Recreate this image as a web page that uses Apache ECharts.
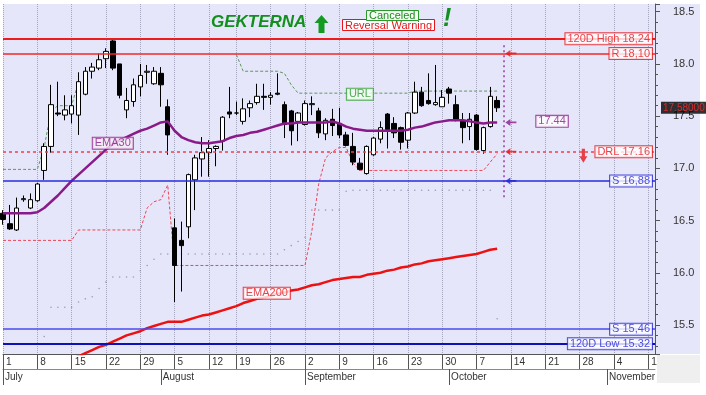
<!DOCTYPE html>
<html><head><meta charset="utf-8">
<script src="https://cdn.jsdelivr.net/npm/echarts@6/dist/echarts.min.js"></script>
<style>html,body{margin:0;padding:0;background:#fff}#c{width:706px;height:395px}</style>
</head><body><div id="c"></div>
<script>
// ---- trading-day categories (2019, Aug 15 holiday) ----
const julDays=[1,2,3,4,5,8,9,10,11,12,15,16,17,18,19,22,23,24,25,26,29,30,31];
const augDays=[1,2,5,6,7,8,9,12,13,14,16,19,20,21,22,23,26,27,28,29,30];
const sepDays=[2,3,4,5,6,9,10,11,12,13,16,17,18,19,20,23,24,25,26,27,30];
const octDays=[1,2,3,4,7,8,9,10,11,14,15,16,17,18,21,22,23,24,25,28,29,30,31];
const novDays=[1,4,5,6,7,8,11,12];
const monthNames={'07':'July','08':'August','09':'September','10':'October','11':'November'};

// ---- OHLC ----
const opens=[16.57,16.47,16.41,16.70,16.62,16.69,16.98,17.21,17.53,17.51,17.52,17.51,17.71,17.93,17.96,18.05,18.22,18.00,17.56,17.64,17.78,17.92,17.81,17.91,17.59,16.43,16.31,16.44,16.89,17.09,17.15,17.19,17.26,17.54,17.53,17.45,17.58,17.63,17.69,17.68,17.72,17.61,17.55,17.45,17.42,17.61,17.55,17.33,17.47,17.43,17.32,17.21,17.05,16.95,17.13,17.28,17.52,17.43,17.39,17.27,17.53,17.73,17.65,17.61,17.59,17.76,17.61,17.46,17.40,17.51,17.17,17.40,17.65];
const closes=[16.51,16.42,16.62,16.71,16.70,16.85,17.21,17.61,17.52,17.56,17.60,17.83,17.93,17.97,18.04,18.12,17.96,17.70,17.65,17.80,17.89,17.93,17.93,17.80,17.32,16.07,16.26,16.94,17.10,17.15,17.19,17.21,17.49,17.52,17.53,17.57,17.62,17.69,17.68,17.70,17.71,17.42,17.36,17.53,17.62,17.62,17.34,17.46,17.41,17.32,17.22,17.06,16.99,17.21,17.29,17.39,17.37,17.34,17.25,17.53,17.73,17.60,17.62,17.63,17.68,17.72,17.46,17.39,17.47,17.18,17.39,17.69,17.58];
const highs=[16.60,16.65,16.72,16.74,16.76,16.86,17.24,17.80,17.83,17.70,17.70,17.92,17.97,18.01,18.10,18.15,18.24,18.00,17.77,17.86,18.00,17.99,17.97,17.97,17.66,16.52,16.49,16.95,17.13,17.30,17.27,17.22,17.50,17.78,17.64,17.67,17.65,17.81,17.81,17.73,17.91,17.64,17.56,17.54,17.65,17.69,17.58,17.48,17.57,17.58,17.35,17.34,17.10,17.22,17.30,17.45,17.53,17.49,17.40,17.54,17.83,17.78,17.91,17.99,17.75,17.78,17.70,17.53,17.53,17.52,17.40,17.78,17.69];
const lows=[16.46,16.41,16.40,16.68,16.61,16.68,16.89,17.15,17.50,17.46,17.43,17.32,17.70,17.86,17.94,17.96,17.94,17.67,17.48,17.59,17.69,17.81,17.80,17.59,17.13,15.72,15.82,16.33,16.60,16.92,16.92,17.02,17.17,17.48,17.51,17.42,17.49,17.61,17.56,17.61,17.70,17.29,17.22,17.26,17.41,17.51,17.29,17.27,17.31,17.29,17.21,17.03,16.98,16.94,17.12,17.24,17.19,17.29,17.18,17.19,17.52,17.59,17.61,17.60,17.59,17.62,17.45,17.24,17.27,17.17,17.14,17.39,17.54];

// ---- indicators ----
const ema30=[16.57,16.57,16.57,16.57,16.57,16.58,16.62,16.68,16.74,16.81,16.88,16.94,17.00,17.06,17.12,17.18,17.23,17.27,17.30,17.33,17.36,17.38,17.41,17.44,17.45,17.36,17.30,17.27,17.25,17.24,17.24,17.25,17.26,17.29,17.31,17.32,17.34,17.35,17.37,17.39,17.41,17.43,17.43,17.44,17.44,17.44,17.44,17.44,17.45,17.43,17.40,17.38,17.37,17.36,17.36,17.36,17.36,17.36,17.36,17.37,17.39,17.40,17.42,17.44,17.45,17.46,17.46,17.46,17.45,17.44,17.43,17.44,17.44];
const ema200=[14.90,14.93,14.96,14.98,15.01,15.04,15.07,15.10,15.12,15.15,15.18,15.20,15.23,15.26,15.29,15.31,15.34,15.37,15.40,15.42,15.44,15.47,15.49,15.51,15.53,15.53,15.53,15.55,15.57,15.59,15.60,15.62,15.64,15.66,15.68,15.71,15.73,15.75,15.76,15.78,15.80,15.81,15.83,15.84,15.86,15.88,15.89,15.91,15.93,15.94,15.95,15.96,15.96,15.98,15.99,16.00,16.02,16.03,16.05,16.06,16.08,16.09,16.11,16.12,16.13,16.14,16.15,16.16,16.17,16.18,16.20,16.22,16.23];
const urlLevel=[16.99,16.99,16.99,16.99,16.99,16.99,17.20,17.55,17.60,17.60,17.60,17.83,null,null,null,null,null,null,null,null,null,null,null,null,null,null,null,null,null,null,null,null,null,null,18.09,17.93,17.93,17.93,17.93,17.93,17.93,17.91,17.80,17.72,17.72,17.72,17.72,17.72,17.72,17.72,17.72,17.72,17.72,17.72,17.72,17.72,17.72,17.72,17.72,17.72,17.74,17.74,17.74,17.74,17.74,17.74,17.74,17.74,17.74,17.74,17.74,17.74,17.74];
const lowerLevel=[16.31,16.31,16.31,16.31,16.31,16.31,16.31,16.31,16.31,16.31,16.31,16.41,16.41,16.41,16.41,16.41,16.41,16.41,16.41,16.41,16.41,16.62,16.68,16.70,16.84,16.07,16.07,16.07,16.07,16.07,16.07,16.07,16.07,16.07,16.07,16.07,16.07,16.07,16.07,16.07,16.07,16.07,16.07,16.07,16.07,16.40,16.85,17.10,17.16,17.20,17.20,17.05,16.98,16.98,16.98,16.98,16.98,16.98,16.98,16.98,16.98,16.98,16.98,16.98,16.98,16.98,16.98,16.98,16.98,16.98,16.98,17.06,17.14];
const bandDots=[null,null,null,null,null,null,15.39,15.67,15.67,15.67,15.67,15.72,15.75,15.77,15.85,15.91,15.96,15.96,15.96,15.96,16.02,16.07,16.13,16.18,16.18,16.18,16.18,16.18,16.18,16.18,16.18,16.18,16.18,16.18,16.18,16.18,16.18,16.18,16.18,16.18,16.18,16.22,16.26,16.30,16.34,16.60,16.60,16.60,16.60,16.60,16.78,16.79,16.79,16.79,16.79,16.79,16.79,16.79,16.79,16.79,16.79,16.79,16.79,16.79,16.79,16.79,16.79,16.79,16.79,16.79,16.79,16.79,15.56];

// ---- levels / annotations ----
const levelNames=['120D High 18,24','R 18,10','DRL 17.16','S 16,88','S 15,46','120D Low 15.32'];
const levelValues=[18.24,18.10,17.16,16.88,15.46,15.32];
const arrowLevels=[18.10,17.44,17.16,16.88];
const arrowDate='10-14';
const downArrow=['10-29',17.12];
const markerDate='10-11';
const markerRange=[18.18,16.70];
const tagNames=['EMA30','EMA200','URL','17.44'];
const tagPoints=[['07-23',17.24],['08-23',15.805],['09-12',17.71],['10-22',17.45]];

const pad=d=>(d<10?'0':'')+d;
const categories=[].concat(
  julDays.map(d=>'07-'+pad(d)),augDays.map(d=>'08-'+pad(d)),
  sepDays.map(d=>'09-'+pad(d)),octDays.map(d=>'10-'+pad(d)),novDays.map(d=>'11-'+pad(d)));
const isMonday=i=>{const c=categories[i];return new Date(2019,+c.slice(0,2)-1,+c.slice(3)).getDay()===1;};
const isMonthStart=i=>i===0||categories[i].slice(0,2)!==categories[i-1].slice(0,2);

const FONT='Liberation Sans';
const RED='#e5161c', BLUE='#2424d4', PURPLE='#8a1a8a', GREEN='#2a9a2a';
const lastCat=categories[categories.length-1];

const candleData=opens.map((o,i)=>[o,closes[i],lows[i],highs[i]]);
const levelColors=['#ee1c1c','#f02828','#ff3848','#2a2ae0','#4a4af0','#1010b8'];
const levelWidths=[2.2,1.6,1.6,1.6,1.6,2.2];
const levelTypes=['solid','solid',[3,3],'solid','solid','solid'];
const levelTextColors=[RED,RED,RED,BLUE,BLUE,BLUE];
const arrowColors=[RED,PURPLE,RED,BLUE];
const tagColors=[[PURPLE,'#f6eef6'],[RED,'#ffffff'],[GREEN,'#f2fff2'],[PURPLE,'#ffffff']];
const tagOffsets=[[0,0],[3,0],[0,0],[0,0]];

const levelSeries=levelValues.map((v,i)=>({
  type:'line',name:'level'+i,data:[],z:2,silent:true,
  markLine:{silent:true,symbol:['none','none'],label:{show:false},animation:false,
    lineStyle:{color:levelColors[i],width:levelWidths[i],type:levelTypes[i],opacity:1},
    emphasis:{disabled:true},
    data:[{yAxis:v}]}
}));

const opt={
  animation:false,
  textStyle:{fontFamily:FONT},
  graphic:[
    {type:'rect',z:-100,shape:{x:3,y:4,width:697,height:350},style:{fill:'#e6e6fa'}},
    {type:'rect',z:100,shape:{x:657,y:355,width:43,height:28},style:{fill:'#efefef'}},
    {type:'polygon',z:100,shape:{points:[[321.5,15],[328.5,23],[324.5,23],[324.5,33],[318.5,33],[318.5,23],[314.5,23]]},style:{fill:'#139a22'}}
  ],
  title:[
    {text:'GEKTERNA',left:211,top:14,padding:0,textStyle:{fontFamily:FONT,fontSize:17,fontWeight:'bold',fontStyle:'italic',color:'#12901e'}},
    {text:'Reversal Warning',left:342,top:19,padding:[1,3,0,3],borderWidth:1,borderColor:RED,backgroundColor:'#ffffff',textStyle:{fontFamily:FONT,fontSize:11,lineHeight:11,fontWeight:'normal',color:RED}},
    {text:'Canceled',left:366,top:10,padding:[0,3],borderWidth:1,borderColor:GREEN,backgroundColor:'#f4fff4',textStyle:{fontFamily:FONT,fontSize:11,lineHeight:11,fontWeight:'normal',color:'#1e8a1e'}},
    {text:'!',left:443,top:7,padding:0,textStyle:{fontFamily:FONT,fontSize:25,fontWeight:'bold',fontStyle:'italic',color:'#12901e'}}
  ],
  grid:{left:3,right:51,top:4,bottom:41,show:false},
  xAxis:[
    {type:'category',data:categories,boundaryGap:false,position:'bottom',
     axisLine:{show:true,lineStyle:{color:'#555',width:1}},
     axisTick:{show:true,interval:isMonday,length:15,lineStyle:{color:'#555'}},
     axisLabel:{interval:isMonday,formatter:v=>String(+v.slice(3)),align:'left',padding:[0,0,0,3],margin:3,fontSize:10,color:'#333',fontFamily:FONT},
     splitLine:{show:true,interval:isMonday,lineStyle:{type:'dotted',color:'#a4a4bc',width:1}}},
    {type:'category',data:categories,boundaryGap:false,position:'bottom',offset:15,
     axisLine:{show:true,lineStyle:{color:'#888',width:1}},
     axisTick:{show:true,interval:isMonthStart,length:16,lineStyle:{color:'#555'}},
     axisLabel:{interval:isMonthStart,formatter:v=>monthNames[v.slice(0,2)],align:'left',padding:[0,0,0,2],margin:3,fontSize:10,color:'#333',fontFamily:FONT},
     splitLine:{show:false}}
  ],
  yAxis:{type:'value',position:'right',min:15.222,max:18.574,
    axisLine:{show:true,lineStyle:{color:'#555'}},
    axisTick:{show:true,length:5,lineStyle:{color:'#555'}},
    minorTick:{show:true,splitNumber:5,length:3,lineStyle:{color:'#555'}},
    axisLabel:{margin:18,fontSize:11,color:'#333',fontFamily:FONT,showMinLabel:false,showMaxLabel:false,formatter:v=>v.toFixed(1)},
    splitLine:{show:false}},
  series:levelSeries.concat([
    {type:'candlestick',name:'price',data:candleData,barWidth:5,z:3,
     itemStyle:{color:'#ffffff',color0:'#000000',borderColor:'#000000',borderColor0:'#000000',borderWidth:1}},
    {type:'line',name:'LRL',data:lowerLevel,showSymbol:false,symbol:'none',z:2,lineStyle:{color:'#ee4455',width:1,type:[3,2]}},
    {type:'line',name:'URL',data:urlLevel,showSymbol:false,symbol:'none',z:2,lineStyle:{color:'#5a9a5a',width:1,type:[3,2]}},
    {type:'scatter',name:'band',data:bandDots.map((v,i)=>v==null?null:[categories[i],v]).filter(p=>p),symbolSize:1.6,z:2,itemStyle:{color:'#8a8aa0'}},
    {type:'line',name:'EMA200',data:ema200,showSymbol:false,symbol:'none',z:4,lineStyle:{color:'#ee1111',width:2.5}},
    {type:'line',name:'EMA30',data:ema30,showSymbol:false,symbol:'none',z:4,lineStyle:{color:PURPLE,width:2.5}},
    {type:'line',name:'marker',data:markerRange.map(v=>[markerDate,v]),showSymbol:false,symbol:'none',z:4,lineStyle:{color:'#9a3aa8',width:1.5,type:[2,3]}},
    {type:'scatter',name:'arrows',z:6,symbol:'path://M0,4 L5,0 L5,3 L11,3 L11,5 L5,5 L5,8 Z',symbolSize:[11,7],
     data:arrowLevels.map((v,i)=>({value:[arrowDate,v],itemStyle:{color:arrowColors[i]}}))},
    {type:'scatter',name:'down',z:6,symbol:'path://M3,0 L7,0 L7,8 L10,8 L5,15 L0,8 L3,8 Z',symbolSize:[8,14],symbolOffset:[-3,0],
     data:[{value:downArrow,itemStyle:{color:RED}}]},
    {type:'scatter',name:'levelLabels',z:7,symbolSize:0,
     data:levelNames.map((t,i)=>({value:[lastCat,levelValues[i]],
       label:{show:true,position:'left',distance:3,formatter:t,fontFamily:FONT,fontSize:11,lineHeight:11,color:levelTextColors[i],
         backgroundColor:'#ffffff',borderColor:levelTextColors[i],borderWidth:1,padding:[0,2]}}))},
    {type:'scatter',name:'tags',z:7,symbolSize:0,
     data:tagNames.map((t,i)=>({value:tagPoints[i],
       label:{show:true,position:'inside',offset:tagOffsets[i],formatter:t,fontFamily:FONT,fontSize:11,lineHeight:11,color:tagColors[i][0],
         backgroundColor:tagColors[i][1],borderColor:tagColors[i][0],borderWidth:1,padding:[0,2]}}))},
    {type:'scatter',name:'priceTag',z:8,symbolSize:0,
     data:[{value:[lastCat,closes[closes.length-1]],
       label:{show:true,position:'right',distance:6,formatter:closes[closes.length-1].toFixed(5),fontFamily:FONT,fontSize:10,lineHeight:10,color:'#ff2a2a',backgroundColor:'#000000',padding:[1,2]}}]}
  ])
};
const chart=echarts.init(document.getElementById('c'),null,{renderer:'canvas',width:706,height:395});
chart.setOption(opt);
</script></body></html>
